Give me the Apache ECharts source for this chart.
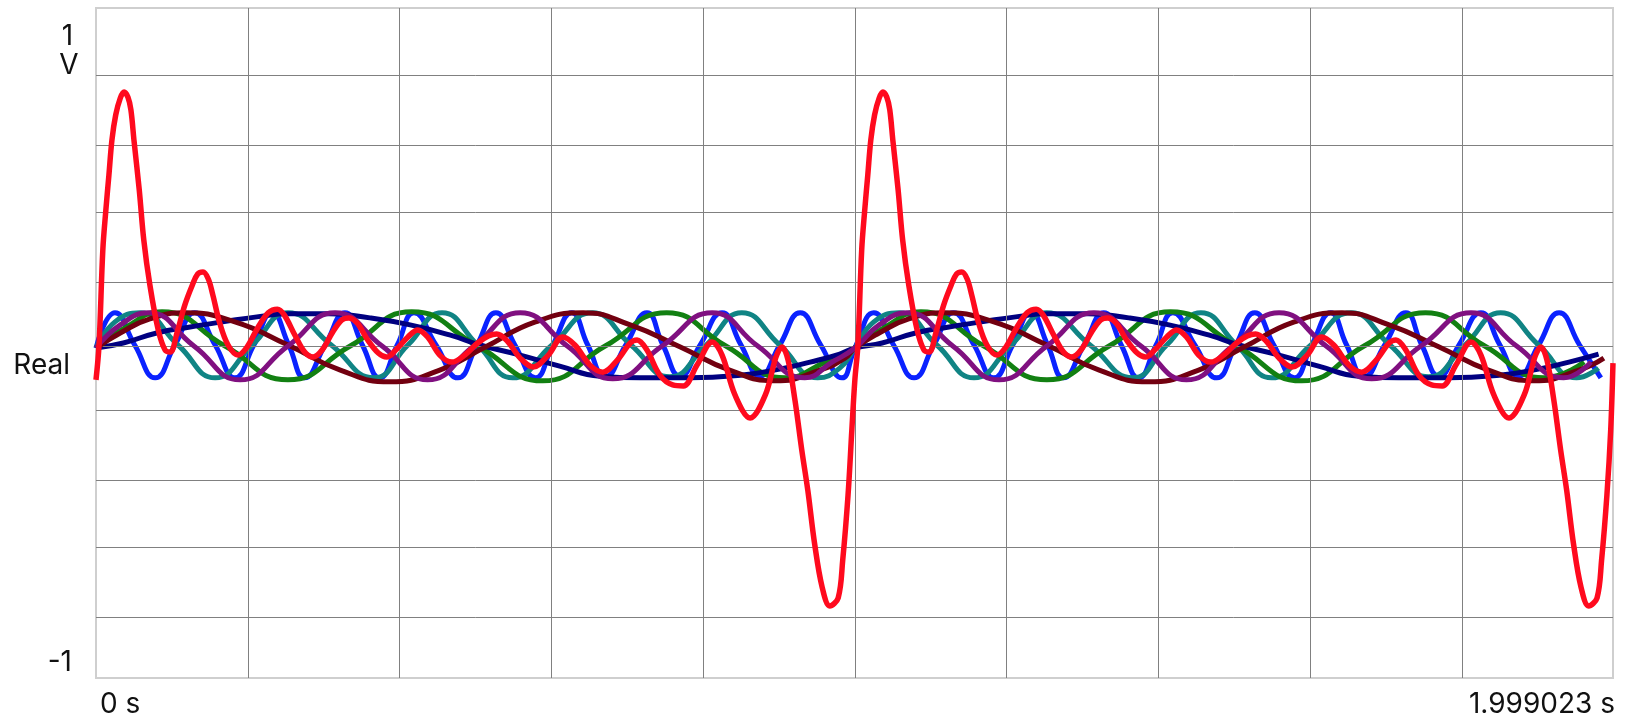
<!DOCTYPE html>
<html><head><meta charset="utf-8">
<script src="https://cdn.jsdelivr.net/npm/echarts@6/dist/echarts.min.js"></script>
<style>html,body{margin:0;padding:0;background:#fff}#c{width:1625px;height:721px}</style>
</head><body><div id="c"></div>
<script>
// ---- data (time in s, amplitude in V) ----
const xRange = [0, 1.999023];
const yRange = [-1, 1];
const period = 1;               // the traces repeat every second
const xTickLabels = ['0 s', '1.999023 s'];
const yTickLabels = ['1', 'V', 'Real', '-1'];
const gridLinesX = [0.197, 0.3965, 0.597, 0.798, 1.0015, 1.2036, 1.4046, 1.605, 1.802];
const gridLinesY = [0.801, 0.593, 0.393, 0.183, -0.009, -0.201, -0.409, -0.610, -0.816];

// one period of each trace
const navyPeriod = [[0,-0.015],[0.036,0.000],[0.080,0.030],[0.124,0.048],[0.167,0.063],[0.212,0.078],[0.256,0.087],[0.308,0.087],[0.361,0.075],[0.414,0.054],[0.466,0.024],[0.506,-0.006],[0.559,-0.036],[0.611,-0.069],[0.664,-0.099],[0.717,-0.104],[0.783,-0.104],[0.849,-0.096],[0.901,-0.078],[0.941,-0.057],[0.980,-0.033]];
const maroonPeriod = [[0,-0.015],[0.032,0.030],[0.071,0.072],[0.117,0.090],[0.183,0.063],[0.253,-0.006],[0.322,-0.081],[0.387,-0.116],[0.453,-0.081],[0.513,-0.012],[0.579,0.063],[0.642,0.090],[0.704,0.054],[0.770,-0.012],[0.835,-0.081],[0.895,-0.113],[0.954,-0.081],[0.987,-0.045]];
const greenPeriod = [[0,-0.015],[0.038,0.045],[0.087,0.093],[0.170,-0.009],[0.253,-0.110],[0.335,-0.009],[0.416,0.093],[0.503,-0.009],[0.589,-0.113],[0.671,-0.009],[0.752,0.090],[0.830,-0.009],[0.908,-0.104],[0.961,-0.057]];
const purplePeriod = [[0,-0.015],[0.032,0.054],[0.069,0.090],[0.129,-0.009],[0.190,-0.110],[0.253,-0.009],[0.315,0.090],[0.377,-0.009],[0.437,-0.110],[0.498,-0.009],[0.559,0.090],[0.621,-0.009],[0.681,-0.107],[0.746,-0.009],[0.812,0.090],[0.872,-0.009],[0.934,-0.104],[0.970,-0.057]];
const tealPeriod = [[0,-0.015],[0.025,0.063],[0.058,0.090],[0.108,-0.006],[0.157,-0.104],[0.206,-0.006],[0.253,0.090],[0.310,-0.006],[0.366,-0.104],[0.411,-0.006],[0.456,0.090],[0.503,-0.006],[0.549,-0.104],[0.601,-0.006],[0.654,0.090],[0.705,-0.006],[0.756,-0.101],[0.804,-0.006],[0.851,0.090],[0.901,-0.006],[0.951,-0.104],[0.980,-0.075]];
const bluePeriod = [[0,-0.015],[0.025,0.090],[0.051,-0.006],[0.078,-0.104],[0.104,-0.006],[0.130,0.090],[0.157,-0.006],[0.183,-0.104],[0.208,-0.006],[0.232,0.090],[0.254,-0.006],[0.275,-0.104],[0.302,-0.006],[0.328,0.090],[0.351,-0.006],[0.374,-0.104],[0.397,-0.006],[0.419,0.090],[0.448,-0.006],[0.477,-0.104],[0.502,-0.006],[0.527,0.090],[0.552,-0.006],[0.579,-0.104],[0.602,-0.006],[0.627,0.090],[0.648,-0.006],[0.671,-0.101],[0.698,-0.006],[0.726,0.090],[0.747,-0.006],[0.770,-0.099],[0.796,-0.006],[0.825,0.090],[0.850,-0.006],[0.875,-0.099],[0.901,-0.006],[0.928,0.090],[0.955,-0.006],[0.983,-0.104]];
const redPeriod = [[0,-0.110],[0.004,-0.006],[0.009,0.278],[0.013,0.397],[0.017,0.501],[0.021,0.606],[0.026,0.681],[0.032,0.731],[0.037,0.749],[0.042,0.734],[0.046,0.696],[0.050,0.606],[0.057,0.457],[0.063,0.307],[0.071,0.173],[0.082,0.039],[0.091,-0.021],[0.098,-0.027],[0.107,0.033],[0.117,0.113],[0.127,0.173],[0.134,0.206],[0.141,0.212],[0.148,0.191],[0.154,0.143],[0.163,0.060],[0.174,-0.006],[0.187,-0.036],[0.199,-0.012],[0.213,0.045],[0.227,0.090],[0.239,0.101],[0.248,0.084],[0.262,0.024],[0.275,-0.027],[0.286,-0.042],[0.298,-0.021],[0.312,0.033],[0.324,0.069],[0.333,0.075],[0.344,0.060],[0.358,0.009],[0.372,-0.030],[0.383,-0.042],[0.395,-0.021],[0.411,0.018],[0.424,0.039],[0.437,0.018],[0.453,-0.036],[0.469,-0.057],[0.486,-0.036],[0.503,0.000],[0.517,0.021],[0.528,0.027],[0.542,0.006],[0.559,-0.045],[0.576,-0.072],[0.596,-0.036],[0.615,0.018],[0.631,-0.006],[0.651,-0.066],[0.668,-0.087],[0.687,-0.051],[0.704,0.000],[0.713,0.009],[0.726,-0.021],[0.743,-0.096],[0.760,-0.125],[0.774,-0.128],[0.792,-0.066],[0.812,0.003],[0.825,-0.036],[0.842,-0.155],[0.862,-0.224],[0.882,-0.155],[0.896,-0.042],[0.904,-0.012],[0.912,-0.051],[0.921,-0.170],[0.930,-0.319],[0.938,-0.440],[0.947,-0.600],[0.957,-0.730],[0.967,-0.785],[0.978,-0.761],[0.984,-0.648],[0.991,-0.454],[0.996,-0.260]];
const redEnd = [[1.999, -0.06]];

const traceNames = ['navy', 'maroon', 'green', 'purple', 'teal', 'blue', 'sum'];
const tracePeriods = [navyPeriod, maroonPeriod, greenPeriod, purplePeriod, tealPeriod, bluePeriod, redPeriod];
const traceColors = ['#000080', '#720010', '#128012', '#801080', '#108484', '#0a22ff', '#ff0a1e'];
const traceOrderZ = [4, 5, 3, 6, 2, 1, 10];

function twoPeriods(arr) {
  return arr.concat(arr.map(p => [p[0] + period, p[1]]));
}

const chart = echarts.init(document.getElementById('c'), null, {renderer: 'canvas'});
const FONT = 'Inter, "Noto Sans", sans-serif';

const series = tracePeriods.map((p, i) => ({
  name: traceNames[i],
  type: 'line',
  data: i === 6 ? twoPeriods(p).concat(redEnd) : twoPeriods(p),
  showSymbol: false,
  smooth: i === 6 ? 0.35 : 0.5,
  lineStyle: {color: traceColors[i], width: i === 6 ? 5.5 : 5},
  itemStyle: {color: traceColors[i]},
  z: traceOrderZ[i],
  animation: false,
  silent: true
}));

series.unshift({
  name: 'grid',
  type: 'line',
  data: [],
  z: 0,
  silent: true,
  animation: false,
  markLine: {
    silent: true,
    symbol: 'none',
    animation: false,
    label: {show: false},
    lineStyle: {color: '#808080', width: 1, type: 'solid'},
    data: gridLinesX.map(v => ({xAxis: v})).concat(gridLinesY.map(v => ({yAxis: v})))
  }
});

chart.setOption({
  backgroundColor: '#fff',
  animation: false,
  grid: {left: 96, top: 8, right: 12, bottom: 43, show: true, borderColor: '#cfcfcf', borderWidth: 2, backgroundColor: 'transparent', outerBoundsMode: 'none'},
  xAxis: {type: 'value', min: xRange[0], max: xRange[1], axisLine: {show: false}, axisTick: {show: false}, axisLabel: {show: false}, splitLine: {show: false}},
  yAxis: {type: 'value', min: yRange[0], max: yRange[1], axisLine: {show: false}, axisTick: {show: false}, axisLabel: {show: false}, splitLine: {show: false}},
  series: series,
  graphic: [
    {type: 'text', x: 67.5, y: 37, style: {text: yTickLabels[0], font: '28px ' + FONT, fill: '#111', align: 'center', verticalAlign: 'middle'}},
    {type: 'text', x: 69, y: 66, style: {text: yTickLabels[1], font: '28px ' + FONT, fill: '#111', align: 'center', verticalAlign: 'middle'}},
    {type: 'text', x: 70, y: 366, style: {text: yTickLabels[2], font: '28px ' + FONT, fill: '#111', align: 'right', verticalAlign: 'middle'}},
    {type: 'text', x: 72, y: 663, style: {text: yTickLabels[3], font: '28px ' + FONT, fill: '#111', align: 'right', verticalAlign: 'middle'}},
    {type: 'text', x: 100, y: 705, style: {text: xTickLabels[0], font: '28px ' + FONT, fill: '#111', align: 'left', verticalAlign: 'middle'}},
    {type: 'text', x: 1615, y: 705, style: {text: xTickLabels[1], font: '28px ' + FONT, fill: '#111', align: 'right', verticalAlign: 'middle'}}
  ]
});
</script></body></html>
